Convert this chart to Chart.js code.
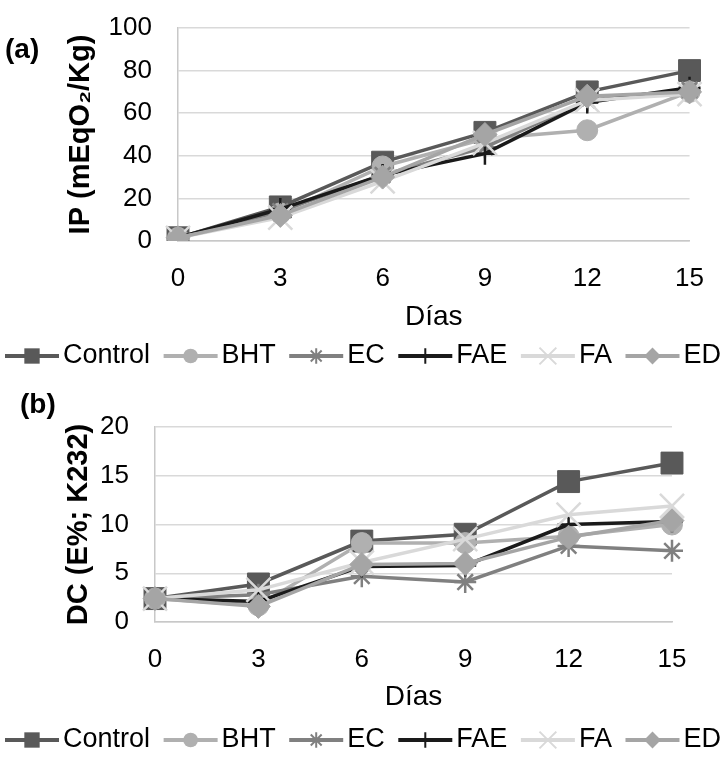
<!DOCTYPE html>
<html>
<head>
<meta charset="utf-8">
<script src="https://cdn.jsdelivr.net/npm/chart.js@4.4.1/dist/chart.umd.min.js"></script>
<style>
body { margin: 0; background: #fff; }
#wrap { position: relative; width: 726px; height: 767px; }
canvas { position: absolute; left: 0; }
</style>
</head>
<body>
<div id="wrap">
  <canvas id="graficoIP" width="726" height="380" style="top:0"></canvas>
  <canvas id="graficoDC" width="726" height="387" style="top:380px"></canvas>
</div>
<script>
const dias = ['0', '3', '6', '9', '12', '15'];
const series = ['Control', 'BHT', 'EC', 'FAE', 'FA', 'ED'];

// (a) IP (mEqO2/Kg)
const ipControl = [1.5, 16, 37, 51, 70, 80];
const ipBHT     = [1.5, 13, 35, 48, 52, 70];
const ipEC      = [1.5, 14, 31, 44, 66, 71];
const ipFAE     = [1.5, 15, 31, 41, 65, 72];
const ipFA      = [1.5, 11, 28, 46, 66, 69];
const ipED      = [1.5, 12, 30, 50, 68, 70];
const ticksIP = [0, 20, 40, 60, 80, 100];

// (b) DC (E%; K232)
const dcControl = [2.4, 3.9, 8.3, 9.0, 14.4, 16.3];
const dcBHT     = [2.4, 1.7, 8.1, 8.1, 8.8, 10.0];
const dcEC      = [2.4, 2.8, 4.7, 4.1, 7.8, 7.3];
const dcFAE     = [2.4, 2.1, 5.7, 5.8, 10.0, 10.3];
const dcFA      = [2.4, 3.3, 6.1, 8.5, 11.0, 11.9];
const dcED      = [2.4, 1.6, 5.9, 6.0, 8.7, 10.4];
const ticksDC = [0, 5, 10, 15, 20];

const fuente = '"Liberation Sans", Arial, sans-serif';
Chart.defaults.font.family = fuente;
Chart.defaults.color = '#000';

// estilo de cada serie (colores y marcadores)
const estilos = [
    { color: '#595959', punto: 'rect',     radio: 15.5, borde: 1 },
    { color: '#b0b0b0', punto: 'circle',   radio: 10.5, borde: 1 },
    { color: '#808080', punto: 'star',     radio: 11,   borde: 2.5 },
    { color: '#1a1a1a', punto: 'cross',    radio: 11,   borde: 2.5 },
    { color: '#d9d9d9', punto: 'crossRot', radio: 17,   borde: 2.5 },
    { color: '#a5a5a5', punto: 'rectRot',  radio: 12,   borde: 1 }
];

function crearDatasets(valores) {
    return valores.map((v, i) => ({
        label: series[i],
        data: v,
        borderColor: estilos[i].color,
        backgroundColor: estilos[i].color,
        borderWidth: 3.5,
        pointStyle: estilos[i].punto,
        pointRadius: estilos[i].radio,
        pointBorderWidth: estilos[i].borde,
        pointBackgroundColor: estilos[i].color,
        pointBorderColor: estilos[i].color,
        tension: 0,
        order: series.length - i
    }));
}

function dibujarMarcador(ctx, e, x, y, r) {
    ctx.fillStyle = e.color;
    ctx.strokeStyle = e.color;
    ctx.beginPath();
    if (e.punto === 'rect') {
        const s = r * Math.SQRT1_2;
        ctx.rect(x - s, y - s, 2 * s, 2 * s);
        ctx.fill();
    } else if (e.punto === 'circle') {
        ctx.arc(x, y, r, 0, Math.PI * 2);
        ctx.fill();
    } else if (e.punto === 'rectRot') {
        ctx.moveTo(x, y - r); ctx.lineTo(x + r, y); ctx.lineTo(x, y + r); ctx.lineTo(x - r, y);
        ctx.closePath();
        ctx.fill();
    } else {
        ctx.lineWidth = 2;
        if (e.punto === 'cross' || e.punto === 'star') {
            ctx.moveTo(x, y - r); ctx.lineTo(x, y + r);
            ctx.moveTo(x - r, y); ctx.lineTo(x + r, y);
        }
        if (e.punto === 'crossRot' || e.punto === 'star') {
            const d = r * Math.SQRT1_2;
            ctx.moveTo(x - d, y - d); ctx.lineTo(x + d, y + d);
            ctx.moveTo(x - d, y + d); ctx.lineTo(x + d, y - d);
        }
        ctx.stroke();
    }
}

// leyenda tipo Excel (linea + marcador) y letra del panel
const leyenda = {
    id: 'leyenda',
    afterDraw(chart, args, opts) {
        const ctx = chart.ctx;
        ctx.save();
        ctx.font = '27px ' + fuente;
        const muestra = 54, hueco = 4;
        const anchos = series.map(s => ctx.measureText(s).width);
        const total = anchos.reduce((a, b) => a + b, 0) + series.length * (muestra + hueco);
        const sep = (opts.ancho - total) / (series.length - 1);
        let x = opts.x;
        series.forEach((s, i) => {
            const e = estilos[i];
            ctx.strokeStyle = e.color;
            ctx.lineWidth = 4;
            ctx.beginPath();
            ctx.moveTo(x, opts.y);
            ctx.lineTo(x + muestra, opts.y);
            ctx.stroke();
            dibujarMarcador(ctx, e, x + muestra / 2, opts.y, e.radio * 0.7);
            ctx.fillStyle = '#000';
            ctx.textBaseline = 'middle';
            ctx.textAlign = 'left';
            ctx.fillText(s, x + muestra + hueco, opts.y);
            x += muestra + hueco + anchos[i] + sep;
        });
        ctx.font = 'bold 28px ' + fuente;
        ctx.fillText(opts.letra, opts.lx, opts.ly);
        ctx.restore();
    }
};

function crearOpciones(ticks, titulo, o) {
    return {
        responsive: false,
        animation: false,
        devicePixelRatio: 1,
        layout: { padding: o.padding },
        plugins: {
            legend: { display: false },
            tooltip: { enabled: false },
            leyenda: o.leyenda
        },
        scales: {
            x: {
                grid: { display: false, drawTicks: false },
                border: { display: true, color: '#c8c8c8', width: 1.5 },
                ticks: { font: { size: 26 }, padding: 22, maxRotation: 0 },
                title: { display: true, text: 'Días', font: { size: 28 }, padding: 0 },
                afterFit: s => { s.height = o.altoX; }
            },
            y: {
                min: ticks[0],
                max: ticks[ticks.length - 1],
                grid: { color: '#d9d9d9', lineWidth: 1.5, drawTicks: false },
                border: { display: true, color: '#c8c8c8', width: 1.5 },
                ticks: { stepSize: ticks[1] - ticks[0], font: { size: 26 }, padding: 26 },
                title: { display: true, text: titulo, font: { size: 29, weight: 'bold' }, padding: { top: o.tituloY, bottom: 0 } },
                afterFit: s => {
                    s.width = o.anchoY;
                    s.paddingTop = 16;
                    s.paddingBottom = 16;
                }
            }
        }
    };
}

const chartIP = new Chart(document.getElementById('graficoIP').getContext('2d'), {
    type: 'line',
    data: {
        labels: dias,
        datasets: crearDatasets([ipControl, ipBHT, ipEC, ipFAE, ipFA, ipED])
    },
    options: crearOpciones(ticksIP, 'IP (mEqO\u2082/Kg)', {
        padding: { left: 0, right: 36, top: 28, bottom: 46 },
        altoX: 93,
        anchoY: 178,
        tituloY: 64,
        leyenda: { x: 5, y: 356, ancho: 716, letra: '(a)', lx: 5, ly: 50 }
    }),
    plugins: [leyenda]
});

const chartDC = new Chart(document.getElementById('graficoDC').getContext('2d'), {
    type: 'line',
    data: {
        labels: dias,
        datasets: crearDatasets([dcControl, dcBHT, dcEC, dcFAE, dcFA, dcED])
    },
    options: crearOpciones(ticksDC, 'DC (E%; K232)', {
        padding: { left: 0, right: 54, top: 47, bottom: 53 },
        altoX: 92,
        anchoY: 155,
        tituloY: 62,
        leyenda: { x: 5, y: 360, ancho: 716, letra: '(b)', lx: 20, ly: 25 }
    }),
    plugins: [leyenda]
});
</script>
</body>
</html>
